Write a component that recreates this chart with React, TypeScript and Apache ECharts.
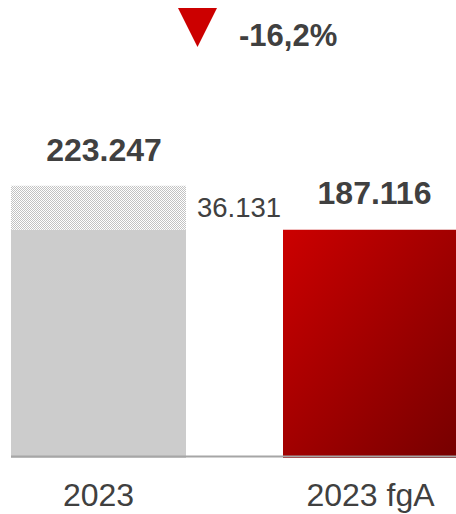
import React, { useEffect, useRef } from "react";
import * as echarts from "echarts";

const categories = ["2023", "2023 fgA"];
const baseValues = [187.116, 187.116];
const diffValues: (number | null)[] = [36.131, null];
const totalValues: (number | null)[] = [223.247, null];

const fmt = (v: number) => v.toFixed(3);

export default function App() {
  const ref = useRef<HTMLDivElement>(null);
  useEffect(() => {
    if (!ref.current) return;
    const chart = echarts.init(ref.current, null, { renderer: "svg" });

    const size = 4;
    const cv = document.createElement("canvas");
    cv.width = size;
    cv.height = size;
    const ctx = cv.getContext("2d")!;
    ctx.fillStyle = "#ffffff";
    ctx.fillRect(0, 0, size, size);
    ctx.fillStyle = "#c2c2c2";
    for (let y = 0; y < size; y++) {
      for (let x = 0; x < size; x++) {
        if ((x + y) % 2 === 0) ctx.fillRect(x, y, 1, 1);
      }
    }
    const patternUrl = cv.toDataURL();

    const change = ((baseValues[1] - totalValues[0]!) / totalValues[0]!) * 100;
    const changeText = (change > 0 ? "+" : "") + change.toFixed(1).replace(".", ",") + "%";

    const font = "'Liberation Sans', Arial, sans-serif";
    const textColor = "#404040";

    chart.setOption({
      animation: false,
      grid: { left: 98.5, right: 85.5, top: 92, bottom: 56, outerBoundsMode: "none" } as any,
      xAxis: {
        type: "category",
        data: categories,
        boundaryGap: false,
        axisLine: { show: false },
        axisTick: { show: false },
        splitLine: { show: false },
        axisLabel: { fontSize: 32, color: textColor, fontFamily: font, margin: 21 },
      },
      yAxis: { type: "value", min: 0, max: 300, show: false },
      series: [
        {
          type: "bar",
          stack: "s",
          barWidth: 175,
          data: baseValues.map((v, i) =>
            i === 0
              ? { value: v, itemStyle: { color: "#cccccc" }, label: { show: false } }
              : {
                  value: v,
                  itemStyle: {
                    color: new echarts.graphic.LinearGradient(0, 0, 1, 1, [
                      { offset: 0, color: "#cc0000" },
                      { offset: 1, color: "#760000" },
                    ]),
                  },
                  label: {
                    show: true,
                    position: "top",
                    distance: 21,
                    offset: [4, 0],
                    formatter: (p: any) => fmt(p.value),
                    fontSize: 32,
                    fontWeight: "bold",
                    color: textColor,
                    fontFamily: font,
                  },
                }
          ),
        },
        {
          type: "bar",
          stack: "s",
          barWidth: 175,
          data: diffValues,
          itemStyle: {
            color: { image: patternUrl, repeat: "repeat", imageWidth: size, imageHeight: size } as any,
          },
          label: {
            show: true,
            position: "right",
            distance: 11,
            formatter: (p: any) => (p.value == null ? "" : fmt(p.value)),
            fontSize: 27.5,
            color: textColor,
            fontFamily: font,
          },
        },
        {
          type: "scatter",
          data: totalValues,
          symbolSize: 0,
          z: 5,
          itemStyle: { opacity: 1 },
          label: {
            show: true,
            position: "top",
            distance: 20,
            offset: [5.5, 0],
            formatter: (p: any) => (p.value == null ? "" : fmt(p.value)),
            fontSize: 32,
            fontWeight: "bold",
            color: textColor,
            fontFamily: font,
          },
        },
      ],
      graphic: [
        {
          type: "line",
          z: 100,
          shape: { x1: 11, y1: 456.5, x2: 456, y2: 456.5 },
          style: { stroke: "#a6a6a6", lineWidth: 2 },
        },
        {
          type: "polygon",
          shape: { points: [[178, 8], [217, 8], [197.5, 47]] },
          style: { fill: "#cc0000" },
        },
        {
          type: "text",
          x: 239,
          y: 35,
          style: {
            text: changeText,
            font: `bold 31px ${font}`,
            fill: textColor,
            verticalAlign: "middle",
            align: "left",
          },
        },
      ],
    });
    return () => chart.dispose();
  }, []);
  return (
    <div
      ref={ref}
      style={{ position: "absolute", left: 0, top: 0, width: 456, height: 514 }}
    />
  );
}
